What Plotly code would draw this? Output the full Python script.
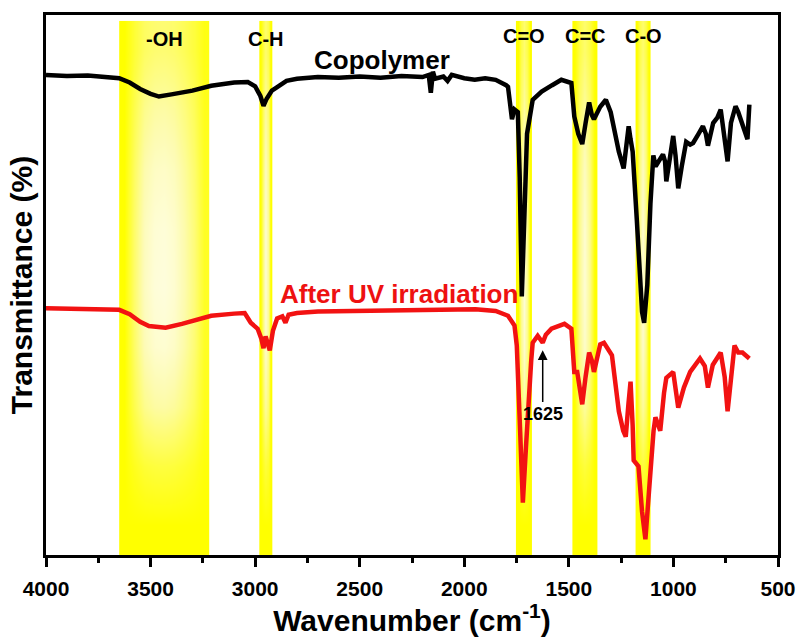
import plotly.graph_objects as go

# ---------------- data ----------------
copolymer_wn = [4000, 3900, 3800, 3700, 3650, 3600, 3550, 3500, 3460, 3400, 3300, 3210, 3100, 3035,
                3000, 2975, 2960, 2945, 2920, 2900, 2850, 2800, 2700, 2600, 2500, 2400, 2300, 2200,
                2170, 2160, 2150, 2140, 2100, 2080, 2060, 2000, 1950, 1900, 1850, 1800, 1791, 1772,
                1760, 1744, 1735, 1725, 1715, 1700, 1673, 1630, 1580, 1536, 1488, 1474, 1455, 1436,
                1420, 1403, 1390, 1380, 1350, 1323, 1300, 1285, 1261, 1238, 1225, 1214, 1205, 1195,
                1175, 1150, 1140, 1125, 1110, 1096, 1085, 1072, 1050, 1040, 1034, 1015, 1001, 990,
                977, 960, 939, 920, 906, 880, 859, 845, 835, 810, 790, 774, 760, 741, 725, 703, 690,
                679, 660, 646, 637]
copolymer_t = [88.9, 88.7, 88.8, 88.6, 88.3, 87.5, 86.3, 85.4, 84.9, 85.3, 86.0, 86.9, 87.5, 87.6,
               86.8, 85.0, 83.2, 84.5, 86.0, 86.5, 87.8, 88.2, 88.5, 88.4, 88.6, 88.4, 88.7, 88.5,
               88.9, 85.6, 89.5, 88.2, 88.6, 87.8, 88.9, 88.3, 88.0, 88.3, 88.0, 87.0, 86.7, 80.7,
               82.5, 82.0, 70.0, 47.9, 60.0, 78.0, 84.3, 85.8, 87.0, 88.0, 87.4, 81.2, 78.0, 76.1,
               80.0, 83.8, 81.5, 80.7, 83.0, 84.3, 82.0, 78.9, 74.7, 71.6, 76.0, 79.4, 77.0, 74.7,
               62.0, 45.0, 43.0, 50.0, 65.0, 74.0, 72.0, 72.9, 74.2, 72.9, 69.2, 74.0, 77.6, 74.0,
               67.9, 72.0, 76.5, 76.0, 76.3, 78.0, 79.4, 78.0, 75.8, 80.0, 81.0, 82.5, 78.0, 72.9,
               80.0, 83.1, 82.0, 80.7, 79.0, 77.0, 83.4]

uv_wn = [4000, 3800, 3700, 3650, 3600, 3550, 3508, 3428, 3350, 3210, 3100, 3050, 3021, 2988, 2970,
         2960, 2950, 2940, 2930, 2915, 2895, 2870, 2855, 2840, 2800, 2700, 2500, 2300, 2100, 1947,
         1850, 1791, 1760, 1749, 1735, 1720, 1705, 1696, 1680, 1673, 1649, 1625, 1610, 1583, 1540,
         1521, 1488, 1474, 1460, 1436, 1420, 1403, 1390, 1380, 1350, 1332, 1294, 1270, 1261, 1240,
         1228, 1215, 1205, 1195, 1190, 1167, 1150, 1134, 1120, 1110, 1095, 1086, 1063, 1045, 1034,
         1001, 990, 977, 950, 920, 873, 850, 835, 812, 774, 755, 741, 725, 708, 690, 670, 655, 637]
uv_t = [45.7, 45.6, 45.5, 45.4, 44.6, 43.2, 42.4, 42.1, 42.8, 44.3, 44.7, 44.8, 43.0, 41.9, 40.0,
        38.3, 40.5, 39.0, 37.9, 41.5, 43.8, 44.2, 43.0, 44.5, 44.8, 45.1, 45.2, 45.3, 45.3, 45.5,
        45.2, 44.3, 42.5, 38.8, 25.0, 9.7, 20.0, 26.6, 36.0, 39.3, 40.6, 39.3, 40.8, 41.9, 42.6,
        42.8, 41.9, 33.9, 33.9, 27.9, 33.0, 37.5, 36.0, 33.9, 39.0, 39.3, 37.0, 30.0, 26.6, 23.0,
        21.9, 28.0, 32.1, 24.0, 17.5, 16.4, 8.0, 2.9, 10.0, 17.5, 23.0, 25.5, 23.0, 30.0, 32.8,
        33.9, 31.0, 27.3, 31.0, 33.9, 36.4, 35.0, 31.0, 35.2, 37.5, 33.0, 26.6, 33.0, 38.8, 37.5,
        37.5, 37.0, 36.4]

band_labels = ["-OH", "C-H", "C=O", "C=C", "C-O"]
band_hi = [3650, 2980, 1753, 1483, 1181]
band_lo = [3220, 2920, 1677, 1365, 1110]
band_label_wn = [3435, 2950, 1713, 1419, 1142]
band_label_t = [95.6, 95.6, 96.2, 96.2, 96.2]
band_top = 98.9

peak_label = "1625"
peak_wn = 1625
peak_t = 37.9
peak_label_t = 26.2

x_ticks = [4000, 3500, 3000, 2500, 2000, 1500, 1000, 500]
x_minor = [3750, 3250, 2750, 2250, 1750, 1250, 750]

FONT = "Liberation Sans"

fig = go.Figure()

# ---------------- gradient bands (style profiles) ----------------
wide_cols = [1.0, 0.55, 0.2, 0.08, 0.06, 0.12, 0.28, 0.5, 0.85]
narrow_cols = [1.0, 0.4, 0.1, 0.4, 1.0]
rows = [1.0, 0.75, 0.35, 0.15, 0.1, 0.12, 0.2, 0.35, 0.55]  # bottom -> top

for i, (hi, lo) in enumerate(zip(band_hi, band_lo)):
    cols = wide_cols if i == 0 else narrow_cols
    nc, nr = len(cols), len(rows)
    xs = [hi + (lo - hi) * (k + 0.5) / nc for k in range(nc)]
    ys = [band_top * (k + 0.5) / nr for k in range(nr)]
    z = [[1 - (1 - c) * (1 - r) for c in cols] for r in rows]
    fig.add_trace(go.Heatmap(
        x=xs, y=ys, z=z, zmin=0, zmax=1, zsmooth="best",
        colorscale=[[0, "#ffffff"], [0.35, "#fdfbb0"], [1, "#ffff00"]],
        showscale=False, hoverinfo="skip"))

# ---------------- spectra ----------------
fig.add_trace(go.Scatter(x=copolymer_wn, y=copolymer_t, mode="lines",
                         line=dict(color="black", width=4.5), hoverinfo="skip"))
fig.add_trace(go.Scatter(x=uv_wn, y=uv_t, mode="lines",
                         line=dict(color="#f21212", width=4.5), hoverinfo="skip"))

# ---------------- annotations ----------------
for lab, wx, ty in zip(band_labels, band_label_wn, band_label_t):
    fig.add_annotation(x=wx, y=ty, text=f"<b>{lab}</b>", showarrow=False,
                       font=dict(family=FONT, size=20, color="black"))

fig.add_annotation(x=2394, y=91.6, text="<b>Copolymer</b>", showarrow=False,
                   font=dict(family=FONT, size=26, color="black"))
fig.add_annotation(x=2314, y=48.3, text="<b>After UV irradiation</b>", showarrow=False,
                   font=dict(family=FONT, size=26, color="#ee1111"))

# arrow to the 1625 shoulder, with its label at the tail
fig.add_annotation(x=peak_wn, y=peak_t, ax=peak_wn, ay=peak_label_t, axref="x", ayref="y",
                   text=f"<b>{peak_label}</b>", showarrow=True, arrowhead=2, arrowsize=1.3,
                   arrowwidth=1.5, arrowcolor="black",
                   font=dict(family=FONT, size=18, color="black"))

# ---------------- layout ----------------
fig.update_layout(
    width=808, height=637,
    margin=dict(l=46, r=23, t=14, b=74),
    paper_bgcolor="white", plot_bgcolor="white",
    showlegend=False,
    font=dict(family=FONT, color="black"),
    xaxis=dict(
        range=[4000, 500], tickvals=x_ticks, ticktext=[f"<b>{v}</b>" for v in x_ticks],
        ticks="outside", ticklen=9, tickwidth=3,
        tickcolor="black", showline=True, linewidth=3, linecolor="black", mirror=True,
        showgrid=False, zeroline=False,
        tickfont=dict(family=FONT, size=21, color="black", weight=900),
        ticklabelstandoff=4,
        minor=dict(tickvals=x_minor, ticks="outside",
                   ticklen=5, tickwidth=3, tickcolor="black"),
        title=dict(text="<b>Wavenumber (cm<sup>-1</sup>)</b>", standoff=4,
                   font=dict(family=FONT, size=30, color="black")),
    ),
    yaxis=dict(
        range=[0, 100], showticklabels=False, ticks="", showline=True, linewidth=3,
        linecolor="black", mirror=True, showgrid=False, zeroline=False,
        title=dict(text="<b>Transmittance (%)</b>", standoff=2,
                   font=dict(family=FONT, size=30, color="black")),
    ),
)

fig.write_html("out.html")
